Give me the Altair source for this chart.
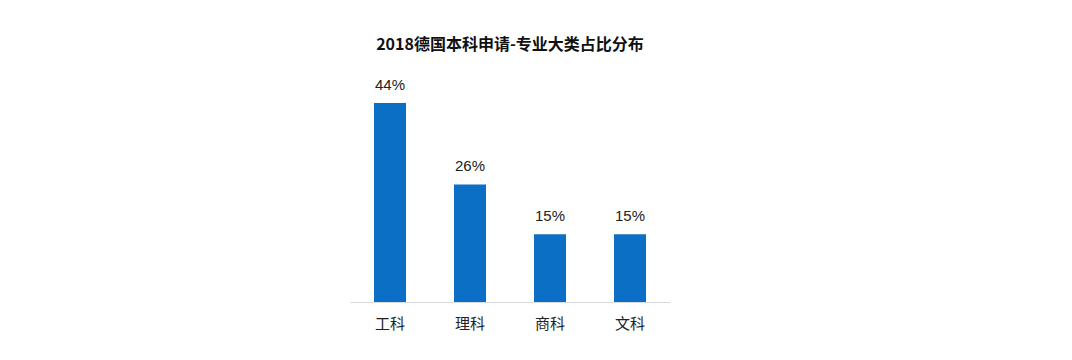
import altair as alt
import pandas as pd

categories = ["工科", "理科", "商科", "文科"]
values = [44, 26, 15, 15]
labels = ["44%", "26%", "15%", "15%"]

df = pd.DataFrame({"cat": categories, "val": values, "lab": labels})

base = alt.Chart(df).encode(
    x=alt.X("cat:N", sort=categories, title=None,
            scale=alt.Scale(paddingInner=0.6, paddingOuter=0.3),
            axis=alt.Axis(labelAngle=0, ticks=False, domainColor="#d9d9d9",
                          labelFont="Noto Sans CJK SC", labelFontSize=15,
                          labelColor="#222222", labelPadding=14)),
    y=alt.Y("val:Q", scale=alt.Scale(domain=[0, 50]), axis=None),
)

bars = base.mark_bar(color="#0A6FC5")
text = base.mark_text(dy=-10, baseline="bottom", font="Liberation Sans",
                      fontSize=15, color="#222222").encode(text="lab:N")

chart = (bars + text).properties(
    width=320, height=226,
    title=alt.TitleParams("2018德国本科申请-专业大类占比分布",
                          font="Noto Sans CJK SC", fontSize=16, fontWeight="bold",
                          color="#111111", anchor="middle", offset=23),
    autosize=alt.AutoSizeParams(type="none"),
    padding={"left": 342, "top": 68, "right": 394, "bottom": 50},
).configure_view(stroke=None)

chart.save("out.html", embed_options={"renderer": "svg", "actions": False})
